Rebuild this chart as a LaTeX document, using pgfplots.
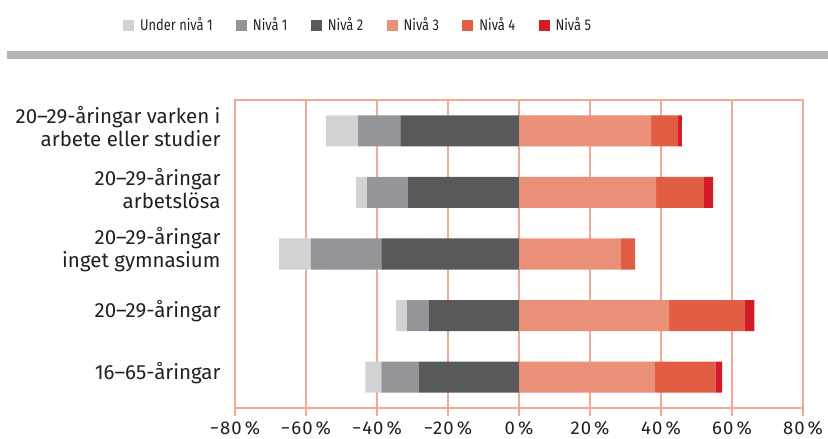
\documentclass[border=0pt]{standalone}
\usepackage{fontspec}
\setmainfont{Fira Sans}
\newfontfamily\legfont{Fira Sans}[FakeStretch=0.83]
\newfontfamily\tickfont{Fira Sans}[LetterSpace=6]
\usepackage{pgfplots}
\pgfplotsset{compat=1.18}
\definecolor{cU}{HTML}{D1D2D4}
\definecolor{cA}{HTML}{939598}
\definecolor{cB}{HTML}{58595B}
\definecolor{cC}{HTML}{EA9079}
\definecolor{cD}{HTML}{E15E45}
\definecolor{cE}{HTML}{D71A27}
\definecolor{salmon}{HTML}{F3AA95}
\definecolor{topgrey}{HTML}{B3B4B7}
\definecolor{txt}{HTML}{231F20}
\pgfplotsset{
  common/.style={
    xbar stacked, bar width=31bp,
    scale only axis, width=568bp, height=308bp,
    at={(235bp,31bp)}, anchor=south west,
    xmin=-80, xmax=80, ymin=-0.5, ymax=4.5,
  }
}
\begin{document}
\begin{tikzpicture}
\useasboundingbox (0,0) rectangle (828bp,439bp);
\fill[topgrey] (7bp,380bp) rectangle (828bp,388bp);
\begin{axis}[common,
  axis line style={salmon, line width=2bp},
  xtick={-80,-60,-40,-20,0,20,40,60,80},
  xticklabels={−80\,\%,−60\,\%,−40\,\%,−20\,\%,0\,\%,20\,\%,40\,\%,60\,\%,80\,\%},
  xmajorgrids, grid style={salmon, line width=1.5bp},
  extra x ticks={0}, extra x tick labels={},
  extra x tick style={grid style={salmon, line width=2.5bp}},
  tick align=outside, xtick pos=bottom,
  major tick length=8bp,
  xtick style={salmon, line width=1.5bp},
  xticklabel style={font=\tickfont\fontsize{18.5bp}{20bp}\selectfont, text=txt, yshift=-2bp},
  ytick={0,1,2,3,4},
  yticklabels={16–65-åringar, 20–29-åringar, {20–29-åringar\\inget gymnasium}, {20–29-åringar\\arbetslösa}, {20–29-åringar varken i\\arbete eller studier}},
  yticklabel style={font=\fontsize{20.5bp}{23bp}\selectfont, text=txt, align=right, xshift=-3bp, yshift=4bp},
  ytick style={draw=none},
  legend columns=6,
  legend image code/.code={\fill[#1] (0bp,-5bp) rectangle (10bp,5bp);},
  legend style={at={(-0.197,1.243)}, anchor=west, draw=none, fill=none, inner sep=0pt,
    nodes={inner sep=0pt},
    font=\legfont\fontsize{15.5bp}{17bp}\selectfont, text=txt,
    /tikz/every odd column/.append style={column sep=6.5bp},
    /tikz/every even column/.append style={column sep=23.5bp}},
]
\addlegendimage{cU}\addlegendentry{Under nivå 1}
\addlegendimage{cA}\addlegendentry{Nivå 1}
\addlegendimage{cB}\addlegendentry{Nivå 2}
\addlegendimage{cC}\addlegendentry{Nivå 3}
\addlegendimage{cD}\addlegendentry{Nivå 4}
\addlegendimage{cE}\addlegendentry{Nivå 5}
% left side: Nivå 2 (next to zero), Nivå 1, Under nivå 1
\addplot[fill=cB, draw=none, forget plot] coordinates {(-28.3,0) (-25.3,1) (-38.8,2) (-31.2,3) (-33.4,4)};
\addplot[fill=cA, draw=none, forget plot] coordinates {(-10.5,0) (-6.2,1) (-19.8,2) (-11.6,3) (-11.9,4)};
\addplot[fill=cU, draw=none, forget plot] coordinates {(-4.5,0) (-3.1,1) (-9.0,2) (-3.1,3) (-9.0,4)};
\end{axis}
\begin{axis}[common, hide axis]
\addplot[fill=cC, draw=none] coordinates {(38.3,0) (42.3,1) (28.7,2) (38.6,3) (37.2,4)};
\addplot[fill=cD, draw=none] coordinates {(17.0,0) (21.4,1) (4.0,2) (13.5,3) (7.6,4)};
\addplot[fill=cE, draw=none] coordinates {(1.9,0) (2.6,1) (0,2) (2.6,3) (1.1,4)};
\end{axis}
\end{tikzpicture}
\end{document}
